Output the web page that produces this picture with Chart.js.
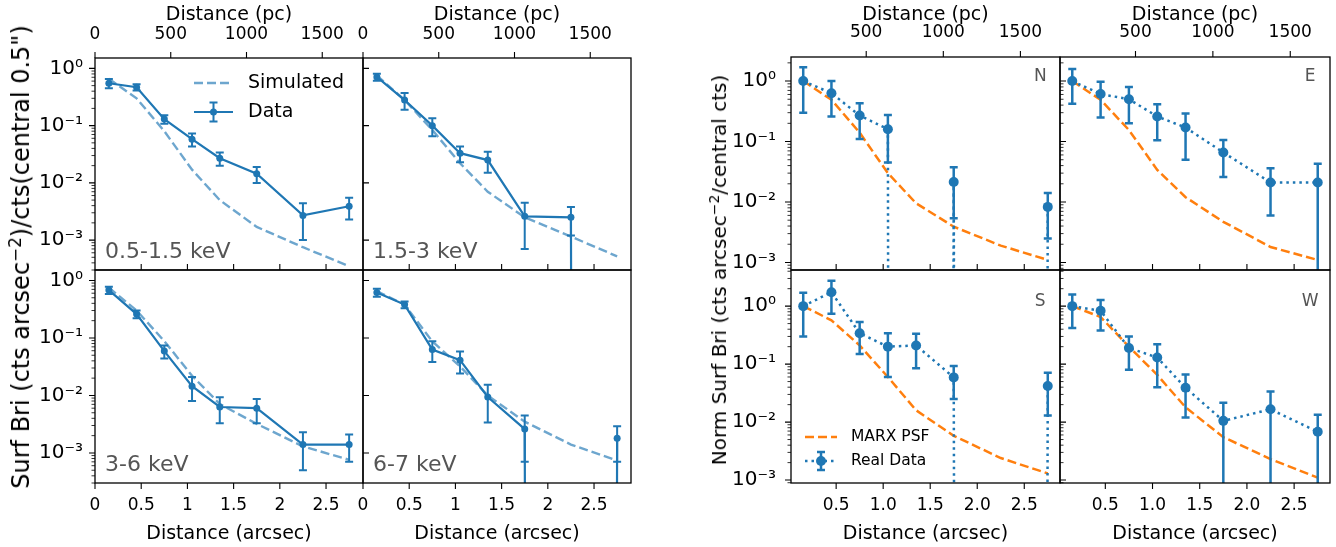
<!DOCTYPE html>
<html>
<head>
<meta charset="utf-8">
<script src="https://cdn.jsdelivr.net/npm/chart.js@4.4.1/dist/chart.umd.min.js"></script>
<style>
  body { margin: 0; width: 1336px; height: 547px; background: #fff; position: relative; overflow: hidden; font-family: 'DejaVu Sans', sans-serif; }
  canvas { position: absolute; }
  .title { position: absolute; white-space: nowrap; font-size: 19px; color: #000; transform: translate(-50%, -50%); }
  .title.rot { transform: translate(-50%, -50%) rotate(-90deg); }
  sup { font-size: 70%; vertical-align: 0.5em; line-height: 0; }
</style>
</head>
<body>
<script>
// Couleurs (cycle matplotlib)
const C0 = '#1f77b4';
const C0_SIM = 'rgba(31,119,180,0.65)';
const C1 = '#ff7f0e';
const PC_PER_ARCSEC = 610;

// Bins radiaux (arcsec)
const xArc = [0.15, 0.45, 0.75, 1.05, 1.35, 1.75, 2.25, 2.75];

// Figure de gauche : bandes d'energie (0 = valeur non positive, coupee sur l'axe log)
const softData = [0.55, 0.47, 0.13, 0.058, 0.027, 0.0144, 0.0027, 0.0039];
const softErr  = [0.1, 0.06, 0.022, 0.015, 0.007, 0.0045, 0.0017, 0.0016];
const softSim  = [0.66, 0.30, 0.08, 0.017, 0.005, 0.0017, 0.00075, 0.00035];

const midData = [0.71, 0.28, 0.10, 0.033, 0.025, 0.0026, 0.0025, 0];
const midErr  = [0.1, 0.09, 0.035, 0.01, 0.01, 0.0019, 0.0013, 0];
const midSim  = [0.75, 0.28, 0.084, 0.022, 0.007, 0.0025, 0.00115, 0.00052];

const hardData = [0.68, 0.26, 0.059, 0.0145, 0.0063, 0.006, 0.0014, 0.0014];
const hardErr  = [0.1, 0.04, 0.015, 0.0065, 0.003, 0.0027, 0.0009, 0.0007];
const hardSim  = [0.75, 0.30, 0.088, 0.022, 0.0071, 0.0032, 0.0013, 0.00076];

const feData = [0.62, 0.38, 0.063, 0.041, 0.0094, 0.0026, 0, 0.0018];
const feErr  = [0.1, 0.05, 0.025, 0.017, 0.006, 0.0019, 0, 0.0011];
const feSim  = [0.65, 0.38, 0.087, 0.032, 0.010, 0.0035, 0.0014, 0.00074];

// Figure de droite : directions N, E, S, W
const nData = [1.0, 0.63, 0.27, 0.16, 0, 0.0214, 0, 0.0083];
const nErr  = [0.7, 0.37, 0.16, 0.115, 0, 0.016, 0, 0.0058];
const nPsf  = [1.0, 0.49, 0.14, 0.030, 0.0095, 0.0039, 0.0019, 0.0011];

const eData = [1.0, 0.61, 0.5, 0.26, 0.17, 0.066, 0.021, 0.021];
const eErr  = [0.58, 0.36, 0.3, 0.155, 0.12, 0.04, 0.015, 0.022];
const ePsf  = [1.0, 0.49, 0.155, 0.034, 0.012, 0.0047, 0.0018, 0.0011];

const sData = [1.0, 1.74, 0.34, 0.2, 0.21, 0.059, 0, 0.042];
const sErr  = [0.7, 1.0, 0.19, 0.14, 0.125, 0.034, 0, 0.029];
const sPsf  = [1.0, 0.57, 0.21, 0.06, 0.016, 0.0058, 0.0024, 0.0013];

const wData = [1.0, 0.83, 0.19, 0.13, 0.039, 0.0105, 0.0166, 0.0068];
const wErr  = [0.58, 0.45, 0.11, 0.09, 0.027, 0.011, 0.017, 0.0066];
const wPsf  = [1.0, 0.65, 0.2, 0.065, 0.018, 0.0055, 0.0023, 0.0011];

// Graduations
const yMajorTicks = [1, 0.1, 0.01, 0.001];
const yMajorLabels = ['10⁰', '10⁻¹', '10⁻²', '10⁻³'];
const xTicksL = [0, 0.5, 1, 1.5, 2, 2.5];
const xLabelsL = ['0', '0.5', '1', '1.5', '2', '2.5'];
const xTicksR = [0.5, 1.0, 1.5, 2.0, 2.5];
const xLabelsR = ['0.5', '1.0', '1.5', '2.0', '2.5'];
const pcTicksL = [0, 500, 1000, 1500];
const pcTicksR = [500, 1000, 1500];

Chart.defaults.font.family = "'DejaVu Sans', sans-serif";
Chart.defaults.color = '#000';

const M = 70;      // marge du canvas autour de la zone de trace
const CAP = 4;     // demi-largeur des barres d'erreur

const groups = {
  L: { xMin: 0, xMax: 2.9, yRange: [[3.1e-4, 1.52], [3.1e-4, 1.52]],
       xTicks: xTicksL, xLabels: xLabelsL, pcTicks: pcTicksL,
       dataName: 'Data', modelName: 'Simulated',
       dataDash: [], dataWidth: 2.2, barWidth: 2, markR: 3.5,
       modelColor: C0_SIM, modelDash: [9, 4], modelWidth: 2.4,
       innerMinor: false, yPad: 6, topPad: 7 },
  R: { xMin: 0.02, xMax: 2.88, yRange: [[7.5e-4, 2.5], [8.9e-4, 4.2]],
       xTicks: xTicksR, xLabels: xLabelsR, pcTicks: pcTicksR,
       dataName: 'Real Data', modelName: 'MARX PSF',
       dataDash: [2.5, 4], dataWidth: 2.5, barWidth: 2.5, markR: 5,
       modelColor: C1, modelDash: [9, 4], modelWidth: 2.5,
       innerMinor: true, yPad: 9, topPad: 8 }
};

const panels = [
  { grp: 'L', row: 0, col: 0, box: [95, 58, 268, 212], label: '0.5-1.5 keV', vals: softData, errs: softErr, model: softSim, legend: true },
  { grp: 'L', row: 0, col: 1, box: [363, 58, 268, 212], label: '1.5-3 keV', vals: midData, errs: midErr, model: midSim },
  { grp: 'L', row: 1, col: 0, box: [95, 270, 268, 213], label: '3-6 keV', vals: hardData, errs: hardErr, model: hardSim },
  { grp: 'L', row: 1, col: 1, box: [363, 270, 268, 213], label: '6-7 keV', vals: feData, errs: feErr, model: feSim },
  { grp: 'R', row: 0, col: 0, box: [791, 57, 269, 213], label: 'N', vals: nData, errs: nErr, model: nPsf },
  { grp: 'R', row: 0, col: 1, box: [1060, 57, 270, 213], label: 'E', vals: eData, errs: eErr, model: ePsf },
  { grp: 'R', row: 1, col: 0, box: [791, 270, 269, 213], label: 'S', vals: sData, errs: sErr, model: sPsf, legend: true },
  { grp: 'R', row: 1, col: 1, box: [1060, 270, 270, 213], label: 'W', vals: wData, errs: wErr, model: wPsf }
];

// comme matplotlib (nonpositive='clip') : les valeurs <= 0 partent vers le bas de l'axe
const clipLog = v => (v > 0 ? v : 1e-300);

function minorTickValues(min, max) {
  const out = [];
  for (let k = Math.floor(Math.log10(min)); k <= Math.ceil(Math.log10(max)); k++) {
    for (let m = 2; m <= 9; m++) {
      const v = m * Math.pow(10, k);
      if (v > min && v < max) out.push(v);
    }
  }
  return out;
}

function errBar(ctx, px, yHi, yLo, capLo) {
  ctx.beginPath();
  ctx.moveTo(px, yHi); ctx.lineTo(px, yLo);
  ctx.moveTo(px - CAP, yHi); ctx.lineTo(px + CAP, yHi);
  if (capLo) { ctx.moveTo(px - CAP, yLo); ctx.lineTo(px + CAP, yLo); }
  ctx.stroke();
}

const framePlugin = {
  id: 'frame',
  afterDatasetsDraw(chart, args, opts) {
    const p = opts.panel, g = groups[p.grp];
    const ctx = chart.ctx, a = chart.chartArea;
    const sx = chart.scales.x, sy = chart.scales.y;
    ctx.save();
    ctx.beginPath();
    ctx.rect(a.left, a.top, a.right - a.left, a.bottom - a.top);
    ctx.clip();
    ctx.strokeStyle = C0;
    ctx.lineWidth = g.barWidth;
    p.vals.forEach((v, i) => {
      if (!(v > 0)) return;
      const e = p.errs[i];
      const px = sx.getPixelForValue(xArc[i]);
      const lo = v - e;
      const yHi = sy.getPixelForValue(v + e);
      const yLo = lo > 0 ? sy.getPixelForValue(lo) : a.bottom + 5;
      errBar(ctx, px, yHi, yLo, lo > 0);
    });
    ctx.restore();
  },
  afterDraw(chart, args, opts) {
    const p = opts.panel, g = groups[p.grp];
    const ctx = chart.ctx, a = chart.chartArea;
    const sx = chart.scales.x, sy = chart.scales.y, st = chart.scales.xTop;
    ctx.save();

    // graduations
    ctx.strokeStyle = '#000';
    ctx.lineWidth = 1.1;
    ctx.beginPath();
    const dir = p.col === 0 ? -1 : 1;
    yMajorTicks.forEach(v => {
      const y = sy.getPixelForValue(v);
      ctx.moveTo(a.left, y); ctx.lineTo(a.left + dir * 6, y);
    });
    if (p.row === 0) {
      g.pcTicks.forEach(v => {
        const x = st.getPixelForValue(v);
        ctx.moveTo(x, a.top); ctx.lineTo(x, a.top - 6);
      });
    } else {
      g.xTicks.forEach(v => {
        const x = sx.getPixelForValue(v);
        ctx.moveTo(x, a.bottom); ctx.lineTo(x, a.bottom + 6);
        if (v > g.xMin) { ctx.moveTo(x, a.top); ctx.lineTo(x, a.top - 6); }
      });
    }
    ctx.stroke();
    if (p.col === 0 || g.innerMinor) {
      ctx.lineWidth = 0.8;
      ctx.beginPath();
      minorTickValues(sy.min, sy.max).forEach(v => {
        const y = sy.getPixelForValue(v);
        ctx.moveTo(a.left, y); ctx.lineTo(a.left + dir * 3.5, y);
      });
      ctx.stroke();
    }

    // cadre
    ctx.lineWidth = 1.3;
    ctx.strokeRect(a.left, a.top, a.right - a.left, a.bottom - a.top);

    // etiquette du panneau
    ctx.fillStyle = '#555';
    ctx.textBaseline = 'middle';
    if (p.grp === 'L') {
      ctx.font = "22px 'DejaVu Sans'";
      ctx.textAlign = 'left';
      ctx.fillText(p.label, a.left + 10, a.bottom - 18);
    } else {
      ctx.font = "17px 'DejaVu Sans'";
      ctx.textAlign = 'center';
      ctx.fillText(p.label, sx.getPixelForValue(2.67), sy.getPixelForValue(1.2));
    }

    // legende
    if (p.legend) {
      const L = p.grp === 'L';
      const x0 = a.left + (L ? 99 : 14), len = L ? 39 : 32;
      const tx = a.left + (L ? 153 : 60);
      const y1 = a.top + (L ? 25 : 167), y2 = a.top + (L ? 54 : 191);
      const half = L ? 9.5 : 9;
      ctx.lineWidth = g.modelWidth;
      ctx.strokeStyle = g.modelColor;
      ctx.setLineDash(g.modelDash);
      ctx.beginPath(); ctx.moveTo(x0, y1); ctx.lineTo(x0 + len, y1); ctx.stroke();
      ctx.lineWidth = g.dataWidth;
      ctx.strokeStyle = C0;
      ctx.setLineDash(g.dataDash);
      ctx.beginPath(); ctx.moveTo(x0, y2); ctx.lineTo(x0 + len, y2); ctx.stroke();
      ctx.setLineDash([]);
      ctx.lineWidth = g.barWidth;
      errBar(ctx, x0 + len / 2, y2 - half, y2 + half, true);
      ctx.fillStyle = C0;
      ctx.beginPath(); ctx.arc(x0 + len / 2, y2, g.markR, 0, Math.PI * 2); ctx.fill();
      ctx.fillStyle = '#000';
      ctx.textAlign = 'left';
      ctx.font = (L ? '19px' : '15.5px') + " 'DejaVu Sans'";
      ctx.fillText(chart.data.datasets[1].label, tx, y1);
      ctx.fillText(chart.data.datasets[0].label, tx, y2);
    }
    ctx.restore();
  }
};

panels.forEach(p => {
  const g = groups[p.grp];
  const [bx, by, bw, bh] = p.box;
  const [yMin, yMax] = g.yRange[p.row];
  const cv = document.createElement('canvas');
  cv.width = bw + 2 * M;
  cv.height = bh + 2 * M;
  cv.style.left = (bx - M) + 'px';
  cv.style.top = (by - M) + 'px';
  document.body.appendChild(cv);

  const tickFont = { size: 17 };
  const noGrid = { display: false, tickLength: 6 };

  new Chart(cv, {
    type: 'line',
    data: {
      datasets: [
        {
          label: g.dataName,
          data: xArc.map((x, i) => ({ x, y: clipLog(p.vals[i]) })),
          borderColor: C0,
          backgroundColor: C0,
          borderWidth: g.dataWidth,
          borderDash: g.dataDash,
          pointRadius: g.markR,
          pointBorderWidth: 0,
          pointBackgroundColor: C0,
          tension: 0,
          clip: 0
        },
        {
          label: g.modelName,
          data: xArc.map((x, i) => ({ x, y: p.model[i] })),
          borderColor: g.modelColor,
          borderWidth: g.modelWidth,
          borderDash: g.modelDash,
          pointRadius: 0,
          tension: 0,
          fill: false,
          clip: 0
        }
      ]
    },
    options: {
      responsive: false,
      animation: false,
      events: [],
      layout: { padding: { left: 0, right: M, top: 0, bottom: 0 } },
      plugins: {
        legend: { display: false },
        tooltip: { enabled: false },
        frame: { panel: p }
      },
      scales: {
        x: {
          type: 'linear', position: 'bottom', min: g.xMin, max: g.xMax,
          afterFit: s => { s.height = M; },
          afterBuildTicks: s => { s.ticks = g.xTicks.map(v => ({ value: v })); },
          grid: noGrid, border: { display: false },
          ticks: { display: p.row === 1, padding: 6, font: tickFont, autoSkip: false, maxRotation: 0,
                   callback: (v, i) => g.xLabels[i] }
        },
        xTop: {
          type: 'linear', position: 'top',
          min: g.xMin * PC_PER_ARCSEC, max: g.xMax * PC_PER_ARCSEC,
          afterFit: s => { s.height = M; },
          afterBuildTicks: s => { s.ticks = g.pcTicks.map(v => ({ value: v })); },
          grid: noGrid, border: { display: false },
          ticks: { display: p.row === 0, padding: g.topPad, font: tickFont, autoSkip: false, maxRotation: 0,
                   callback: v => String(v) }
        },
        y: {
          type: 'logarithmic', position: 'left', min: yMin, max: yMax,
          afterFit: s => { s.width = M; },
          afterBuildTicks: s => { s.ticks = yMajorTicks.map(v => ({ value: v })); },
          grid: noGrid, border: { display: false },
          ticks: { display: p.col === 0, padding: g.yPad, font: { size: 20 }, autoSkip: false,
                   callback: (v, i) => yMajorLabels[i] }
        }
      }
    },
    plugins: [framePlugin]
  });

  // titres d'axes de chaque panneau
  const t = document.createElement('div');
  t.className = 'title';
  t.textContent = p.row === 0 ? 'Distance (pc)' : 'Distance (arcsec)';
  t.style.left = (bx + bw / 2) + 'px';
  t.style.top = (p.row === 0 ? 13 : 532) + 'px';
  document.body.appendChild(t);
});

// titres verticaux communs
[
  { html: 'Surf Bri (cts arcsec<sup>−2</sup>)/cts(central 0.5")', x: 21, y: 257, size: 24 },
  { html: 'Norm Surf Bri (cts arcsec<sup>−2</sup>/central cts)', x: 719, y: 270, size: 20 }
].forEach(o => {
  const d = document.createElement('div');
  d.className = 'title rot';
  d.innerHTML = o.html;
  d.style.left = o.x + 'px';
  d.style.top = o.y + 'px';
  d.style.fontSize = o.size + 'px';
  document.body.appendChild(d);
});
</script>
</body>
</html>
